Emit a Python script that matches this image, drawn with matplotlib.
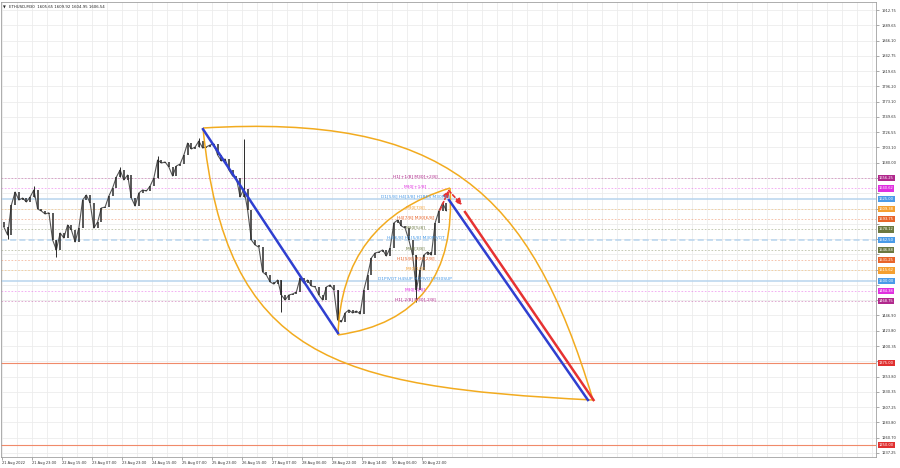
import numpy as np
import matplotlib.pyplot as plt
import matplotlib.transforms as mtransforms
from matplotlib.path import Path
from matplotlib.patches import PathPatch

title = "ETHUSD,M30  1605.65 1609.92 1604.95 1606.54"

# closes of 2h candles (4 x M30 bars each)
closes = [1581.8, 1569.6, 1615.4, 1635.2, 1623.0, 1626.0, 1620.0, 1627.6, 1638.3, 1609.3,
          1606.2, 1601.7, 1603.5, 1562.0, 1546.8, 1572.7, 1565.1, 1584.9, 1577.3, 1559.0,
          1580.3, 1623.0, 1630.6, 1618.4, 1580.3, 1589.5, 1610.8, 1612.3, 1629.1, 1641.3,
          1658.1, 1668.8, 1653.5, 1661.1, 1626.0, 1613.8, 1633.7, 1638.3, 1636.7, 1644.3,
          1656.6, 1684.0, 1679.4, 1681.0, 1673.3, 1659.6, 1674.9, 1677.9, 1691.6, 1709.9,
          1700.8, 1703.8, 1713.0, 1702.3, 1704.0, 1706.9, 1708.4, 1691.6, 1682.5, 1685.5,
          1668.8, 1659.6, 1656.6, 1627.6, 1640.0, 1607.8, 1562.0, 1554.4, 1551.0, 1513.2,
          1508.6, 1498.0, 1494.9, 1501.0, 1478.1, 1470.5, 1478.1, 1479.7, 1482.7, 1504.0,
          1496.4, 1501.0, 1491.9, 1490.3, 1478.1, 1470.5, 1490.3, 1493.4, 1485.8, 1440.0,
          1437.0, 1450.7, 1455.3, 1450.7, 1453.7, 1449.2, 1485.8, 1508.6, 1534.6, 1542.2,
          1543.7, 1546.8, 1537.6, 1549.8, 1587.9, 1592.5, 1583.4, 1580.3, 1562.0, 1539.1,
          1485.8, 1516.3, 1539.1, 1543.7, 1539.1, 1587.9, 1606.2, 1618.4, 1606.5]
first_open = 1590.0
bars_per_candle = 4

# long wicks
wick_idx = [1, 8, 14, 31, 41, 52, 64, 74, 89, 110]
wick_px = [1564.0, 1645.0, 1536.0, 1674.0, 1690.0, 1717.0, 1716.0, 1452.0, 1420.0, 1468.0]

date_labels = ["21 Aug 2022", "21 Aug 23:00", "22 Aug 15:00", "23 Aug 07:00", "23 Aug 23:00",
               "24 Aug 15:00", "25 Aug 07:00", "25 Aug 23:00", "26 Aug 15:00", "27 Aug 07:00",
               "28 Aug 06:00", "28 Aug 22:00", "29 Aug 14:00", "30 Aug 06:00", "30 Aug 22:00"]
date_step = 32

price_ticks = [1912.75, 1889.65, 1866.10, 1842.75, 1819.65, 1796.20, 1773.10, 1749.65, 1726.55,
               1703.10, 1680.00, 1656.55, 1633.45, 1610.00, 1586.90, 1563.45, 1540.00, 1516.90,
               1493.45, 1470.35, 1446.90, 1423.80, 1400.35, 1377.25, 1353.80, 1330.35, 1307.25,
               1283.80, 1260.70, 1237.25]

level_prices = [1656.25, 1640.62, 1625.00, 1609.38, 1593.75, 1578.12, 1562.50, 1546.88,
                1531.25, 1515.62, 1500.00, 1484.38, 1468.75, 1375.00, 1250.00]
level_colors = ["#b0288c", "#e030e0", "#4a9be8", "#f5a030", "#e8642a", "#6b7840", "#4a9be8",
                "#6b7840", "#e8642a", "#f5a030", "#4a9be8", "#e030e0", "#b0288c", "#e03030",
                "#e03030"]
level_styles = [":", ":", "-", ":", ":", ":", "--", ":", ":", ":", "-", ":", ":", "-", "-"]
level_texts = ["H1[+1/8] M30[+2/8]", "M30[+1/8]", "D1[5/8] H4[3/8] H1RES M30RES", "M30[7/8]",
               "H4[7/8] M30[6/8]", "M30[5/8]", "H4[6/8] H1[5/8] M30PIVOT", "M30[3/8]",
               "H1[5/8] M30[2/8]", "M30[1/8]", "D1PIVOT H4SUP H1PIVOT M30SUP", "M30[-1/8]",
               "H1[-2/8] M30[-2/8]", "", ""]
label_bar = 441

# drawing anchors (bar, price)
big_a = (214.4, 1732.8)
big_b = (630.4, 1318.0)
big_up_ctrl = [(470.4, 1754.2), (563.2, 1639.8)]
big_dn_ctrl = [(238.9, 1382.1), (353.1, 1337.9)]
small_a = (358.4, 1417.2)
small_b = (477.9, 1641.3)
small_ctrl_up = (362.1, 1590.2)
small_ctrl_dn = (486.4, 1443.1)
blue1 = [(214.4, 1731.0), (358.4, 1420.0)]
blue2 = [(476.8, 1623.0), (625.0, 1318.0)]
red1 = [(493.9, 1604.7), (631.0, 1318.0)]
red_dash = [(467.2, 1607.8), (476.5, 1637.5), (490.7, 1615.4)]

fig = plt.figure(figsize=(9, 4.68), dpi=100)
ax = fig.add_axes([1 / 900, 11 / 468, 875 / 900, 455 / 468])
ax.set_xlim(-1.07, 932.3)
ax.set_ylim(1231.1, 1924.95)

# grid + axes
ax.set_xticks([i * date_step for i in range(len(date_labels))])
ax.set_xticklabels(date_labels, ha="left", fontsize=2.6, color="#333333")
ax.set_xticks(np.arange(16, 940, 16), minor=True)
ax.tick_params(axis="x", which="minor", length=0)
ax.tick_params(axis="x", which="major", length=2, width=0.5, color="#888888", pad=1)
ax.yaxis.tick_right()
ax.set_yticks(price_ticks)
# labels hidden behind the coloured level boxes are left blank
ylabels = []
for p in price_ticks:
    covered = any(abs(p - lp) < 9 for lp in level_prices) or 1465 < p < 1660
    ylabels.append("" if covered else f"{p:.2f}")
ax.set_yticklabels(ylabels, fontsize=2.6, color="#333333")
ax.tick_params(axis="y", length=2, width=0.5, color="#888888", pad=2)
ax.grid(True, which="both", color="#ececec", lw=0.6)
ax.set_axisbelow(True)
for s in ax.spines.values():
    s.set_color("#a0a0a0")
    s.set_linewidth(0.6)

# level lines
for p, c, ls in zip(level_prices, level_colors, level_styles):
    if ls == "-" and p > 1400:
        ax.axhline(p, color="#b8d4ee", lw=1.1, zorder=1)
    elif ls == "--":
        ax.axhline(p, color="#b8d4ee", lw=1.1, ls=(0, (4, 2)), zorder=1)
    elif ls == "-":
        ax.axhline(p, color="#f08a6a", lw=0.8, zorder=1)
    else:
        ax.axhline(p, color=c, lw=0.6, ls=(0, (2, 2)), alpha=0.45, zorder=1)

# candles
opens = [first_open] + closes[:-1]
xs = [bars_per_candle * i + 2 for i in range(len(closes))]
lo = [min(o, c) for o, c in zip(opens, closes)]
hi = [max(o, c) for o, c in zip(opens, closes)]
ax.plot(xs, closes, color="#555555", lw=0.8, zorder=3)
ax.vlines(xs, lo, hi, color="#2a2a2a", lw=1.1, zorder=3)
for i, w in zip(wick_idx, wick_px):
    ax.vlines(xs[i], min(w, lo[i]), max(w, hi[i]), color="#2a2a2a", lw=0.7, zorder=3)

# arcs
orange = "#f2ab1f"
cubic = [Path.MOVETO, Path.CURVE4, Path.CURVE4, Path.CURVE4]
quad = [Path.MOVETO, Path.CURVE3, Path.CURVE3]
arcs = [Path([big_a, *big_up_ctrl, big_b], cubic),
        Path([big_a, *big_dn_ctrl, big_b], cubic),
        Path([small_a, small_ctrl_up, small_b], quad),
        Path([small_a, small_ctrl_dn, small_b], quad)]
for path in arcs:
    ax.add_patch(PathPatch(path, fc="none", ec=orange, lw=1.1, zorder=4))

# trend lines
ax.plot(*zip(*blue1), color="#2f3fd0", lw=1.8, zorder=5)
ax.plot(*zip(*blue2), color="#2f3fd0", lw=1.8, zorder=5)
ax.plot(*zip(*red1), color="#e63232", lw=1.8, zorder=5)
for p0, p1 in [(red_dash[0], red_dash[1]), (red_dash[1], red_dash[2])]:
    ax.annotate("", xy=p1, xytext=p0,
                arrowprops=dict(arrowstyle="-|>,head_length=0.35,head_width=0.18",
                                color="#e63232", lw=1.2, ls=(0, (2, 1.5)),
                                shrinkA=0, shrinkB=0), zorder=6)

# level texts
for p, c, t in zip(level_prices, level_colors, level_texts):
    if t:
        ax.text(label_bar, p + 3, t, fontsize=3.2, color=c, ha="center", va="center", zorder=7)

# price boxes on the right
trans = mtransforms.blended_transform_factory(ax.transAxes, ax.transData)
for p, c in zip(level_prices, level_colors):
    ax.text(1.003, p, f"{p:.2f}", transform=trans, fontsize=2.6, color="white",
            ha="left", va="center", clip_on=False, zorder=10,
            bbox=dict(boxstyle="square,pad=0.3", fc=c, ec="none"))

ax.text(0.002, 0.993, "\u25bc", transform=ax.transAxes, fontsize=2.6, color="#222222",
        ha="left", va="top")
ax.text(0.009, 0.993, title, transform=ax.transAxes, fontsize=2.8, color="#222222",
        ha="left", va="top")

fig.savefig("out.png", dpi=100)
